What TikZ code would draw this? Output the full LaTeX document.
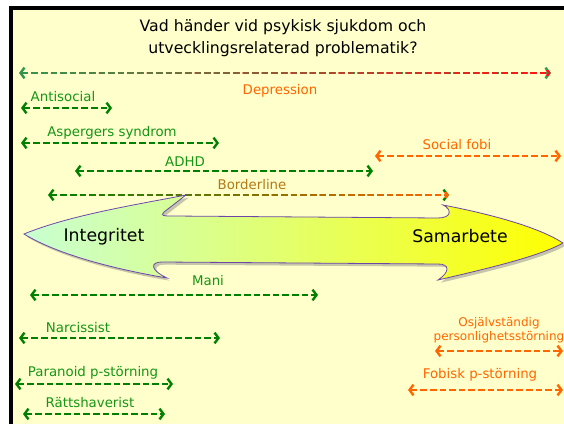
\documentclass[tikz,border=0pt]{standalone}
\usepackage{fontspec}
\setmainfont{DejaVu Sans}
\usetikzlibrary{arrows.meta,shadows,fadings}

\definecolor{slidebg}{RGB}{255,255,204}
\definecolor{dkgreen}{RGB}{0,128,0}
\definecolor{lbgreen}{RGB}{20,150,20}
\definecolor{lborange}{RGB}{255,102,0}
\definecolor{dpgreen}{RGB}{50,150,80}
\definecolor{dpred}{RGB}{255,20,20}
\definecolor{bdbrown}{RGB}{180,120,20}
\definecolor{mint}{RGB}{200,255,210}
\definecolor{midyel}{RGB}{220,255,110}
\definecolor{edgepurple}{RGB}{110,70,170}

\tikzset{
  span/.style={line width=1.6pt, dash pattern=on 5pt off 2.2pt,
    {Straight Barb[length=3pt,width=8pt,line width=1.8pt]}-{Straight Barb[length=3pt,width=8pt,line width=1.8pt]}},
  gspan/.style={span, dkgreen},
  ospan/.style={span, lborange},
  glabel/.style={text=lbgreen, font=\fontsize{10}{11.5}\selectfont, inner sep=1pt},
  olabel/.style={text=lborange, font=\fontsize{10}{11.5}\selectfont, inner sep=1pt, align=center},
}

\begin{document}
\begin{tikzpicture}[x=0.75pt,y=-0.75pt]
	\useasboundingbox (0,0) rectangle (564,424);
	\fill[white] (0,0) rectangle (564,424);
	\fill[black] (9,6) rectangle (564,424);
	\fill[slidebg] (13,10) rectangle (564,424);

	% title
	\node (title) at (283,38) [align=center, font=\fontsize{11.8}{16.5}\selectfont] {Vad händer vid psykisk sjukdom och\\utvecklingsrelaterad problematik?};

	% depression, green to red
	\coordinate (depL) at (19,73);
	\coordinate (depR) at (551,73);
	\draw[span, dpgreen] (depL) -- (depR);
	\draw[span, dpred, path fading=west] (depL) -- (depR);
	\node (dep) at (280,91) [olabel] {Depression};

	% left column, green
	\coordinate (antiL) at (21,108);
	\coordinate (antiR) at (112,108);
	\draw[gspan] (antiL) -- (antiR);
	\node (anti) at (63,97) [glabel] {Antisocial};

	\coordinate (aspL) at (21,143);
	\coordinate (aspR) at (219,143);
	\draw[gspan] (aspL) -- (aspR);
	\node (asp) at (112,133) [glabel] {Aspergers syndrom};

	\coordinate (adhdL) at (75,171);
	\coordinate (adhdR) at (373,171);
	\draw[gspan] (adhdL) -- (adhdR);
	\node (adhd) at (185,162) [glabel] {ADHD};

	% social fobi, orange
	\coordinate (sfL) at (375,156);
	\coordinate (sfR) at (561,156);
	\draw[ospan] (sfL) -- (sfR);
	\node (sf) at (457,145) [olabel] {Social fobi};

	% borderline, green to orange
	\coordinate (bdL) at (48,195);
	\coordinate (bdR) at (449,195);
	\draw[span, dkgreen] (bdL) -- (bdR);
	\draw[span, lborange, path fading=west] (bdL) -- (bdR);
	\node (bd) at (252,185) [text=bdbrown, font=\fontsize{10}{11.5}\selectfont, inner sep=1pt] {Borderline};

	% big double arrow
	\path[draw=edgepurple, line width=0.6pt, left color=mint, middle color=midyel, right color=yellow,
	      drop shadow={shadow xshift=2pt, shadow yshift=-2pt, opacity=0.45}]
	  (24,234) .. controls (70,215) and (140,204) .. (186,195)
	  -- (164,212) .. controls (160,216) and (164,216) .. (172,216)
	  -- (438,218) .. controls (452,218) and (452,209) .. (443,205)
	  .. controls (495,215) and (540,228) .. (563,243)
	  .. controls (540,256) and (490,268) .. (438,280)
	  .. controls (450,272) and (450,264) .. (438,264)
	  -- (162,262) .. controls (150,262) and (150,270) .. (167,278)
	  .. controls (120,270) and (60,256) .. (24,234) -- cycle;
	\node (integ) at (104,237) [font=\fontsize{13}{15}\selectfont] {Integritet};
	\node (samar) at (460,236) [font=\fontsize{13}{15}\selectfont] {Samarbete};

	% lower left, green
	\coordinate (maniL) at (30,295);
	\coordinate (maniR) at (318,295);
	\draw[gspan] (maniL) -- (maniR);
	\node (mani) at (208,281) [glabel] {Mani};

	\coordinate (narL) at (19,338);
	\coordinate (narR) at (220,338);
	\draw[gspan] (narL) -- (narR);
	\node (nar) at (78,328) [glabel] {Narcissist};

	\coordinate (parL) at (15,384);
	\coordinate (parR) at (173,384);
	\draw[gspan] (parL) -- (parR);
	\node (par) at (93,373) [glabel] {Paranoid p-störning};

	\coordinate (ratL) at (23,414);
	\coordinate (ratR) at (165,414);
	\draw[gspan] (ratL) -- (ratR);
	\node (rat) at (90,403) [glabel] {Rättshaverist};

	% lower right, orange
	\coordinate (osjL) at (435,351);
	\coordinate (osjR) at (563,351);
	\draw[ospan] (osjL) -- (osjR);
	\node (osj) at (499,330) [olabel, font=\fontsize{9}{10.5}\selectfont] {Osjälvständig\\personlighetsstörning};

	\coordinate (fobL) at (408,390);
	\coordinate (fobR) at (563,390);
	\draw[ospan] (fobL) -- (fobR);
	\node (fob) at (480,375) [olabel] {Fobisk p-störning};
\end{tikzpicture}
\end{document}
